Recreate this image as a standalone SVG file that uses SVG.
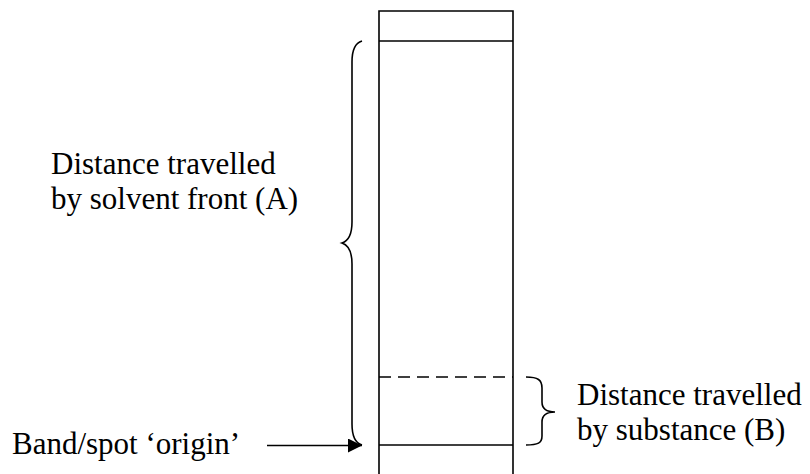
<svg xmlns="http://www.w3.org/2000/svg" width="810" height="474" viewBox="0 0 810 474">
  <defs>
    <style>
      .ln { fill: none; stroke: #000; stroke-width: 1.6; }
      text { font-family: 'Liberation Serif', 'Times New Roman', Times, serif; font-size: 31px; fill: #000; }
    </style>
    <marker id="head" viewBox="0 0 10 10" refX="10" refY="5" markerWidth="17" markerHeight="14" markerUnits="userSpaceOnUse" orient="auto">
      <path d="M0,0 L10,5 L0,10 Z" fill="#000"/>
    </marker>
  </defs>
  <rect width="810" height="474" fill="#fff"/>

  <!-- chromatography strip -->
  <g id="strip">
    <path class="ln" d="M379,478 V11 H513 V478"/>
    <line class="ln" x1="379" y1="41" x2="513" y2="41"/>
    <line class="ln" x1="379" y1="377" x2="513" y2="377" stroke-dasharray="12 7"/>
    <line class="ln" x1="379" y1="445" x2="513" y2="445"/>
  </g>

  <!-- braces -->
  <g id="brace-a">
    <path class="ln" d="M362,41 C355,43 352,50 352,62 V222 C352,236 348,241 342,243 C348,245 352,250 352,264 V424 C352,436 355,443 362,445"/>
  </g>
  <g id="brace-b">
    <path class="ln" d="M526,377 C538,377 542,380 542,388 V402 C542,409 546,412 555,412 C546,412 542,415 542,422 V436 C542,443 538,445 526,445"/>
  </g>

  <!-- labels -->
  <g id="label-a">
    <text font-family="Liberation Serif, serif" x="51" y="174">Distance travelled</text>
    <text font-family="Liberation Serif, serif" x="51" y="209">by solvent front (A)</text>
  </g>
  <g id="label-b">
    <text font-family="Liberation Serif, serif" x="577" y="405">Distance travelled</text>
    <text font-family="Liberation Serif, serif" x="577" y="440">by substance (B)</text>
  </g>
  <g id="label-origin">
    <text font-family="Liberation Serif, serif" x="12" y="454">Band/spot ‘origin’</text>
  </g>

  <!-- connectors -->
  <g id="connectors">
    <line class="ln" x1="267" y1="445.5" x2="362" y2="445.5" marker-end="url(#head)"/>
  </g>
</svg>
